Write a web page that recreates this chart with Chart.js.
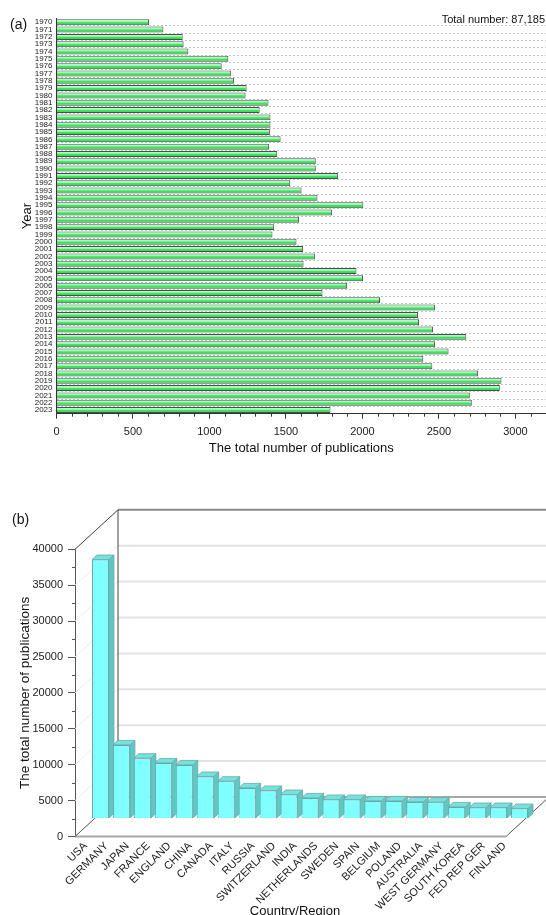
<!DOCTYPE html>
<html>
<head>
<meta charset="utf-8">
<script src="https://cdn.jsdelivr.net/npm/chart.js@4/dist/chart.umd.min.js"></script>
<style>
  html, body { margin: 0; padding: 0; overflow: hidden; background: #fff; }
  canvas { position: absolute; left: 0; }
</style>
</head>
<body>
<canvas id="chartA" width="546" height="470" style="top:0"></canvas>
<canvas id="chartB" width="546" height="460" style="top:470px"></canvas>
<script>
// (a) publications per year
const years = ['1970','1971','1972','1973','1974','1975','1976','1977','1978','1979',
  '1980','1981','1982','1983','1984','1985','1986','1987','1988','1989',
  '1990','1991','1992','1993','1994','1995','1996','1997','1998','1999',
  '2000','2001','2002','2003','2004','2005','2006','2007','2008','2009',
  '2010','2011','2012','2013','2014','2015','2016','2017','2018','2019',
  '2020','2021','2022','2023'];
const pubs = [605, 699, 825, 831, 862, 1123, 1080, 1140, 1160, 1243,
  1236, 1386, 1328, 1399, 1399, 1395, 1465, 1390, 1443, 1695,
  1695, 1841, 1528, 1602, 1706, 2006, 1802, 1586, 1423, 1412,
  1569, 1612, 1691, 1615, 1961, 2004, 1900, 1739, 2115, 2474,
  2363, 2370, 2461, 2679, 2474, 2563, 2398, 2457, 2755, 2909,
  2898, 2702, 2715, 1791];
const yearTicks = [0, 500, 1000, 1500, 2000, 2500, 3000];
const totalLabel = 'Total number: 87,185';

// (b) publications per country/region
const countries = ['USA', 'GERMANY', 'JAPAN', 'FRANCE', 'ENGLAND', 'CHINA', 'CANADA', 'ITALY',
  'RUSSIA', 'SWITZERLAND', 'INDIA', 'NETHERLANDS', 'SWEDEN', 'SPAIN', 'BELGIUM', 'POLAND',
  'AUSTRALIA', 'WEST GERMANY', 'SOUTH KOREA', 'FED REP GER', 'FINLAND'];
const countryPubs = [36070, 10250, 8400, 7740, 7465, 5850, 5195, 4260,
  3900, 3340, 2870, 2650, 2650, 2450, 2450, 2310,
  2270, 1615, 1530, 1530, 1390];

Chart.defaults.font.family = "'Liberation Sans', Arial, sans-serif";
Chart.defaults.color = '#222';

function greenFill(c) {
  const ys = c.chart.scales.y;
  if (!ys || c.dataIndex === undefined) return '#4be86a';
  const yc = ys.getPixelForValue(c.dataIndex);
  if (!isFinite(yc)) return '#4be86a';
  const g = c.chart.ctx.createLinearGradient(0, yc - 3, 0, yc + 3);
  g.addColorStop(0, '#d4ffe0');
  g.addColorStop(0.4, '#9af5b4');
  g.addColorStop(0.55, '#3ee85c');
  g.addColorStop(1, '#2ad045');
  return g;
}

const decoA = {
  id: 'decoA',
  afterDraw(chart) {
    const { ctx, chartArea: a, scales: { x } } = chart;
    ctx.save();
    ctx.strokeStyle = '#333';
    ctx.lineWidth = 1;
    ctx.beginPath();
    for (let v = 100; v < 3200; v += 100) {
      if (v % 500 === 0) continue;
      const px = Math.round(x.getPixelForValue(v)) + 0.5;
      ctx.moveTo(px, a.bottom);
      ctx.lineTo(px, a.bottom + 3);
    }
    ctx.stroke();
    ctx.fillStyle = '#111';
    ctx.textBaseline = 'middle';
    ctx.font = "14px 'Liberation Sans', Arial";
    ctx.textAlign = 'left';
    ctx.fillText('(a)', 10, 25.5);
    ctx.font = "11px 'Liberation Sans', Arial";
    ctx.textAlign = 'right';
    ctx.fillText(totalLabel, 545, 19.5);
    ctx.restore();
  }
};

new Chart(document.getElementById('chartA'), {
  type: 'bar',
  data: {
    labels: years,
    datasets: [{
      data: pubs,
      backgroundColor: greenFill,
      borderColor: '#4d4d4d',
      borderWidth: 1,
      barPercentage: 0.82,
      categoryPercentage: 1
    }]
  },
  options: {
    indexAxis: 'y',
    responsive: false,
    animation: false,
    layout: { padding: { top: 18.6, right: 0, left: 0, bottom: 0 } },
    plugins: { legend: { display: false }, tooltip: { enabled: false } },
    scales: {
      x: {
        min: 0, max: 3200,
        afterBuildTicks: s => { s.ticks = yearTicks.map(v => ({ value: v })); },
        ticks: { font: { size: 11 }, color: '#222', padding: 6.4, maxRotation: 0, callback: v => String(v) },
        grid: { drawOnChartArea: false, tickLength: 5, tickColor: '#333' },
        border: { color: '#333' },
        title: { display: true, text: 'The total number of publications', font: { size: 13 }, color: '#111', padding: { top: 0, bottom: 14.2 } },
        afterFit: s => { s.height = 56.3; }
      },
      y: {
        ticks: { autoSkip: false, font: { size: 8, family: "'Liberation Sans Narrow', 'Liberation Sans', Arial" }, color: '#222', padding: 4 },
        grid: { drawTicks: false, color: c => c.index === 0 ? 'rgba(0,0,0,0)' : '#c4c4c4' },
        border: { color: '#333', dash: [2, 2] },
        title: { display: true, text: 'Year', font: { size: 13 }, color: '#111', padding: { top: 19.7, bottom: 0 } },
        afterFit: s => { s.width = 56.5; }
      }
    }
  },
  plugins: [decoA]
});

// 3D look for (b)
const WALL_DX = 43, WALL_DY = -39.5;   // back wall offset
const BAR_DX = 15, BAR_DY = -18;       // bar plane offset
const SIDE_DX = 5, SIDE_DY = -4.5;     // bar depth
const FLOOR_RIGHT = 506;

function line(ctx, x1, y1, x2, y2) {
  ctx.beginPath();
  ctx.moveTo(x1, y1);
  ctx.lineTo(x2, y2);
  ctx.stroke();
}

const deco3d = {
  id: 'deco3d',
  beforeDatasetsDraw(chart) {
    const { ctx, chartArea: a, scales: { y } } = chart;
    const bx = a.left + WALL_DX, bxr = FLOOR_RIGHT + WALL_DX;
    ctx.save();
    y.ticks.forEach(t => {
      const yf = y.getPixelForValue(t.value);
      const yb = yf + WALL_DY;
      ctx.strokeStyle = '#ececec';
      ctx.lineWidth = 1;
      line(ctx, a.left, yf, bx, yb);
      if (t.value > 0 && t.value < 40000) {
        ctx.strokeStyle = '#e2e2e2';
        ctx.lineWidth = 2;
        line(ctx, bx, yb, bxr, yb);
      }
    });
    // back wall frame
    ctx.strokeStyle = '#8a8a8a';
    ctx.lineWidth = 2;
    line(ctx, bx, a.top + WALL_DY, bxr, a.top + WALL_DY);
    ctx.strokeStyle = '#444';
    ctx.lineWidth = 1;
    line(ctx, a.left, a.top, bx, a.top + WALL_DY);
    line(ctx, bx, a.top + WALL_DY, bx, a.bottom + WALL_DY);
    // floor
    ctx.strokeStyle = '#a8a8a8';
    ctx.lineWidth = 2;
    line(ctx, bx, a.bottom + WALL_DY, bxr, a.bottom + WALL_DY);
    line(ctx, a.left, a.bottom, FLOOR_RIGHT, a.bottom);
    ctx.strokeStyle = '#555';
    ctx.lineWidth = 1;
    line(ctx, a.left, a.bottom, bx, a.bottom + WALL_DY);
    line(ctx, FLOOR_RIGHT, a.bottom, bxr, a.bottom + WALL_DY);
    // minor ticks on front axis
    ctx.strokeStyle = '#555';
    for (let v = 2500; v < 40000; v += 5000) {
      const py = Math.round(y.getPixelForValue(v)) + 0.5;
      line(ctx, a.left - 3, py, a.left, py);
    }
    // side and top faces of the bars
    const meta = chart.getDatasetMeta(0);
    ctx.lineWidth = 0.8;
    ctx.strokeStyle = '#6aa8a6';
    meta.data.forEach(bar => {
      const l = bar.x - bar.width / 2 + BAR_DX, r = bar.x + bar.width / 2 + BAR_DX;
      const t = bar.y + BAR_DY, b = bar.base + BAR_DY;
      ctx.fillStyle = '#5fc8c4';
      ctx.beginPath();
      ctx.moveTo(r, t); ctx.lineTo(r + SIDE_DX, t + SIDE_DY);
      ctx.lineTo(r + SIDE_DX, b + SIDE_DY); ctx.lineTo(r, b);
      ctx.closePath(); ctx.fill(); ctx.stroke();
      ctx.fillStyle = '#76e2de';
      ctx.beginPath();
      ctx.moveTo(l, t); ctx.lineTo(l + SIDE_DX, t + SIDE_DY);
      ctx.lineTo(r + SIDE_DX, t + SIDE_DY); ctx.lineTo(r, t);
      ctx.closePath(); ctx.fill(); ctx.stroke();
    });
    ctx.restore();
    // front faces are drawn by Chart.js in the bar plane
    ctx.save();
    ctx.translate(BAR_DX, BAR_DY);
  },
  afterDatasetsDraw(chart) {
    chart.ctx.restore();
  },
  afterDraw(chart) {
    const ctx = chart.ctx;
    ctx.save();
    ctx.fillStyle = '#111';
    ctx.textBaseline = 'middle';
    ctx.textAlign = 'left';
    ctx.font = "14px 'Liberation Sans', Arial";
    ctx.fillText('(b)', 12, 50);
    ctx.restore();
  }
};

new Chart(document.getElementById('chartB'), {
  type: 'bar',
  data: {
    labels: countries,
    datasets: [{
      data: countryPubs,
      backgroundColor: '#80ffff',
      borderColor: '#6aa8a6',
      borderWidth: 1,
      barPercentage: 0.81,
      categoryPercentage: 1
    }]
  },
  options: {
    responsive: false,
    animation: false,
    layout: { padding: { top: 79.3, right: 31, left: 0, bottom: 0 } },
    plugins: { legend: { display: false }, tooltip: { enabled: false } },
    scales: {
      x: {
        ticks: { autoSkip: false, minRotation: 45, maxRotation: 45, font: { size: 11 }, color: '#222', padding: -5 },
        grid: { display: false },
        border: { display: false },
        title: { display: true, text: 'Country/Region', font: { size: 13 }, color: '#111', padding: { top: 0, bottom: 10.6 } },
        afterFit: s => { s.height = 93.5; }
      },
      y: {
        min: 0, max: 40000,
        ticks: { stepSize: 5000, font: { size: 11 }, color: '#222', padding: 5, callback: v => String(v) },
        grid: { drawOnChartArea: false, tickLength: 7, tickColor: '#555' },
        border: { color: '#555' },
        title: { display: true, text: 'The total number of publications', font: { size: 13.5 }, color: '#111', padding: { top: 17, bottom: 0 } },
        afterFit: s => { s.width = 75; }
      }
    }
  },
  plugins: [deco3d]
});
</script>
</body>
</html>
